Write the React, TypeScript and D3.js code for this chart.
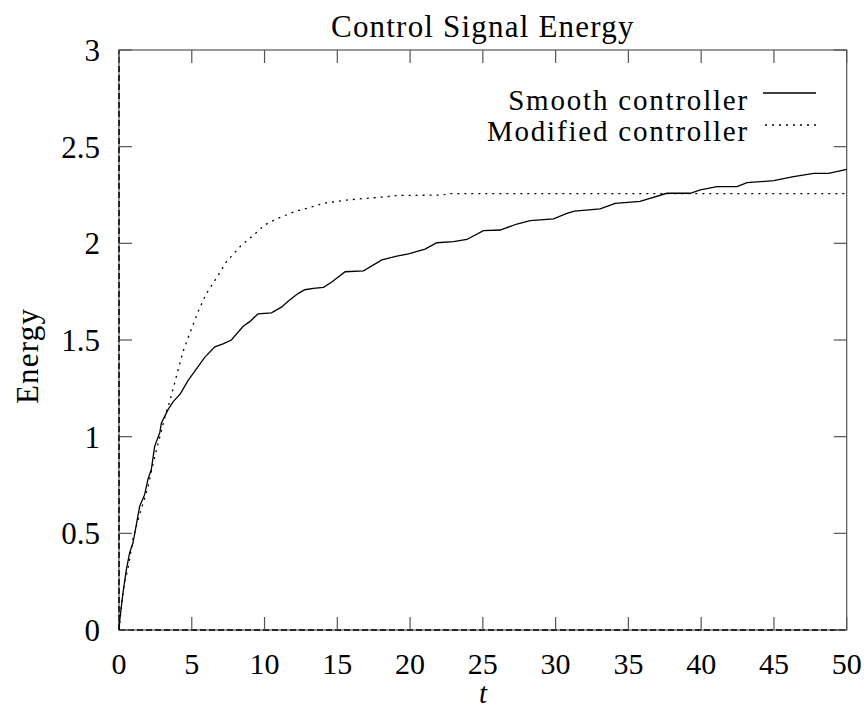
import React from "react";
import * as d3 from "d3";

const title = "Control Signal Energy";
const xLabel = "t";
const yLabel = "Energy";
const xTicks = [0, 5, 10, 15, 20, 25, 30, 35, 40, 45, 50];
const yTicks = [0, 0.5, 1, 1.5, 2, 2.5, 3];
const seriesNames = ["Smooth controller", "Modified controller"];

const tSmooth = [0, 0.05, 0.27, 0.5, 0.73, 0.96, 1.42, 1.76, 1.99, 2.22, 2.45, 2.8, 2.91, 3.37, 3.71, 4.2, 4.74, 5.89, 6.58, 7.15, 7.72, 8.52, 8.98, 9.55, 10.47, 11.16, 11.62, 12.3, 12.76, 13.36, 14.05, 14.62, 15.54, 16.8, 18.06, 19.09, 19.89, 21.03, 21.84, 22.98, 23.9, 25.04, 26.19, 27.34, 28.25, 29.86, 30.77, 31.3, 33.06, 34.1, 35.8, 37.65, 39.25, 39.94, 41.09, 42.46, 43.15, 44.98, 46.35, 47.73, 48.76, 50];
const eSmooth = [0, 0.05, 0.19, 0.31, 0.4, 0.45, 0.64, 0.7, 0.78, 0.83, 0.95, 1.02, 1.07, 1.14, 1.18, 1.22, 1.29, 1.41, 1.465, 1.48, 1.5, 1.57, 1.595, 1.635, 1.64, 1.67, 1.7, 1.74, 1.76, 1.767, 1.772, 1.8, 1.853, 1.858, 1.914, 1.934, 1.945, 1.97, 2.003, 2.009, 2.02, 2.066, 2.069, 2.1, 2.117, 2.126, 2.155, 2.167, 2.178, 2.207, 2.217, 2.259, 2.259, 2.276, 2.293, 2.293, 2.314, 2.324, 2.345, 2.362, 2.362, 2.383];

const tModified = [0, 0.2, 0.39, 0.62, 0.96, 1.31, 1.65, 1.99, 2.34, 2.57, 2.91, 3.25, 3.48, 3.83, 4.4, 4.86, 5.43, 6.0, 6.69, 7.38, 8.41, 9.21, 10.01, 10.93, 12.08, 12.67, 13.68, 14.28, 15.65, 17.03, 18.4, 18.86, 22.3, 22.53, 50];
const eModified = [0, 0.15, 0.25, 0.32, 0.47, 0.57, 0.655, 0.74, 0.86, 0.93, 1.03, 1.13, 1.18, 1.28, 1.44, 1.535, 1.646, 1.74, 1.82, 1.905, 1.99, 2.04, 2.095, 2.13, 2.164, 2.176, 2.198, 2.21, 2.224, 2.233, 2.241, 2.247, 2.25, 2.257, 2.257];

const W = 864;
const H = 712;
const L = 119, R = 846.7, T = 50, B = 630;
const FONT = "'Liberation Serif', 'DejaVu Serif', serif";
const AXIS = "#555";
const LS = 1.2;

export default function App() {
  const x = d3.scaleLinear().domain([0, 50]).range([L, R]);
  const y = d3.scaleLinear().domain([0, 3]).range([B, T]);
  const line = d3
    .line<[number, number]>()
    .x((d) => x(d[0]))
    .y((d) => y(d[1]));
  const smooth = tSmooth.map((t, i) => [t, eSmooth[i]] as [number, number]);
  const modified = tModified.map((t, i) => [t, eModified[i]] as [number, number]);
  const tick = 13;

  return (
    <svg
      width={W}
      height={H}
      style={{ position: "absolute", left: 0, top: 0, background: "#fff" }}
      fontFamily={FONT}
    >
      <rect x={0} y={0} width={W} height={H} fill="#fff" />
      <rect x={L} y={T} width={R - L} height={B - T} fill="none" stroke={AXIS} strokeWidth={1.2} />
      <line x1={x(0)} x2={x(50)} y1={y(0)} y2={y(0)} stroke="#000" strokeWidth={1.5} strokeDasharray="6,3" />
      <line x1={x(0)} x2={x(0)} y1={y(0)} y2={y(3)} stroke="#000" strokeWidth={1.5} strokeDasharray="6,3" />
      {xTicks.map((v) => (
        <g key={"x" + v}>
          <line x1={x(v)} x2={x(v)} y1={B} y2={B - tick} stroke={AXIS} strokeWidth={1.2} />
          <line x1={x(v)} x2={x(v)} y1={T} y2={T + tick} stroke={AXIS} strokeWidth={1.2} />
          <text x={x(v)} y={674} textAnchor="middle" fontSize={30} fill="#000">
            {v}
          </text>
        </g>
      ))}
      {yTicks.map((v) => (
        <g key={"y" + v}>
          <line x1={L} x2={L + tick} y1={y(v)} y2={y(v)} stroke={AXIS} strokeWidth={1.2} />
          <line x1={R} x2={R - tick} y1={y(v)} y2={y(v)} stroke={AXIS} strokeWidth={1.2} />
          <text x={100} y={y(v) + 11} textAnchor="end" fontSize={31} fill="#000">
            {v}
          </text>
        </g>
      ))}
      <text x={(L + R) / 2} y={37} textAnchor="middle" fontSize={31} letterSpacing={LS} fill="#000">
        {title}
      </text>
      <text x={483} y={703} textAnchor="middle" fontSize={29} fontStyle="italic" fill="#000">
        {xLabel}
      </text>
      <text
        transform={`translate(38, 356) rotate(-90)`}
        textAnchor="middle"
        fontSize={31}
        letterSpacing={LS}
        fill="#000"
      >
        {yLabel}
      </text>
      <path d={line(smooth) || ""} fill="none" stroke="#000" strokeWidth={1.3} />
      <path d={line(modified) || ""} fill="none" stroke="#000" strokeWidth={1.3} strokeDasharray="2,5" />
      <text x={749} y={110} textAnchor="end" fontSize={29} letterSpacing={1.8} fill="#000">
        {seriesNames[0]}
      </text>
      <line x1={763} x2={816} y1={93} y2={93} stroke="#000" strokeWidth={1.3} />
      <text x={749} y={141} textAnchor="end" fontSize={29} letterSpacing={1.8} fill="#000">
        {seriesNames[1]}
      </text>
      <line x1={765} x2={816} y1={125} y2={125} stroke="#000" strokeWidth={1.3} strokeDasharray="2,5" />
    </svg>
  );
}
